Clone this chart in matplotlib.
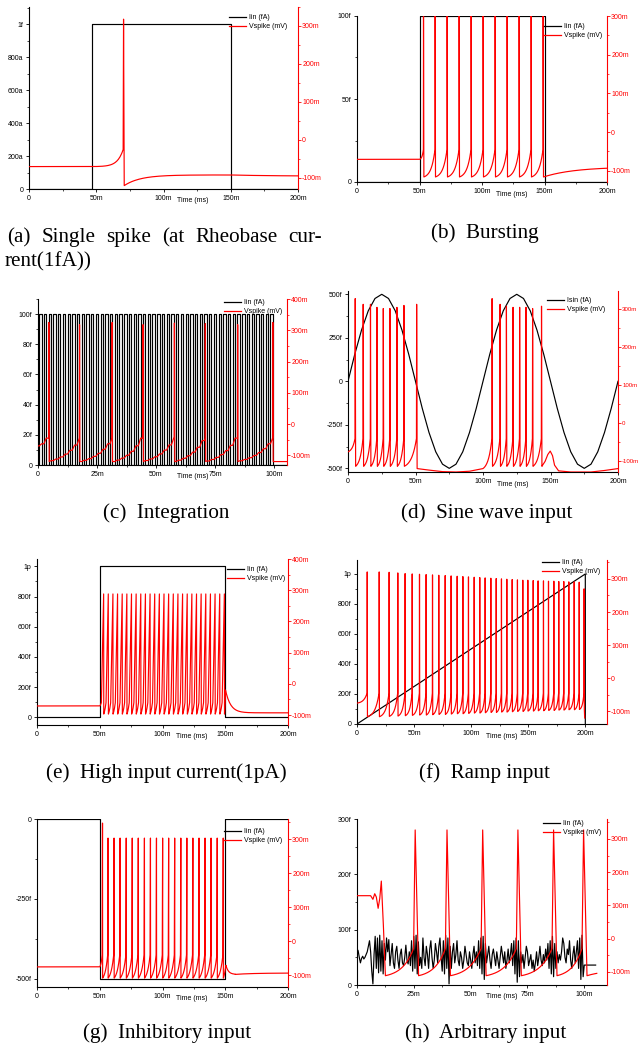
import numpy as np
import matplotlib
matplotlib.use("Agg")
import matplotlib.pyplot as plt
from matplotlib.ticker import AutoMinorLocator, FuncFormatter, FixedLocator
from matplotlib.lines import Line2D

plt.rcParams['font.family'] = 'Liberation Sans'
plt.rcParams['axes.unicode_minus'] = False

# ---------------- data (ms, fA, mV) ----------------
# (a) single spike
a_iin_t = [0, 47, 47, 150, 150, 200]
a_iin = [0, 0, 1, 1, 0, 0]
a_spk = [70.0]
a_pk = [318]

# (b) bursting
b_iin_t = [0, 50, 50, 150, 150, 200]
b_iin = [0, 0, 100, 100, 0, 0]
b_spk = [53.1, 62.4, 72.0, 81.6, 91.2, 100.8, 110.4, 120.0, 129.6, 139.2, 148.8]

# (c) integration: pulse train of 100 fA
c_pulse_on = [0.5, 2.5, 4.5, 6.5, 8.5, 10.5, 12.5, 14.5, 16.5, 18.5, 20.5, 22.5, 24.5,
              26.5, 28.5, 30.5, 32.5, 34.5, 36.5, 38.5, 40.5, 42.5, 44.5, 46.5, 48.5,
              50.5, 52.5, 54.5, 56.5, 58.5, 60.5, 62.5, 64.5, 66.5, 68.5, 70.5, 72.5,
              74.5, 76.5, 78.5, 80.5, 82.5, 84.5, 86.5, 88.5, 90.5, 92.5, 94.5, 96.5, 98.5]
c_pulse_w = 1.0
c_spk = [4.5, 17.5, 31.3, 44.4, 57.7, 70.8, 84.5, 99.4]
c_pk = [325, 318, 325, 318, 323, 321, 318, 325]

# (d) sine input, sampled every 5 ms
d_isin_t = list(range(0, 205, 5))
d_isin = [0, 155, 294, 405, 476, 500, 476, 405, 294, 155, 0, -155, -294, -405, -476, -500,
          -476, -405, -294, -155, 0, 155, 294, 405, 476, 500, 476, 405, 294, 155, 0, -155,
          -294, -405, -476, -500, -476, -405, -294, -155, 0]
d_spk1 = [5.2, 11.1, 16.5, 21.3, 26.0, 30.9, 36.1, 41.3, 50.7]
d_pk1 = [328, 313, 313, 305, 302, 302, 305, 310, 313]
d_gap_t = [51.2, 60, 70, 80, 90, 100]
d_gap_v = [-119, -123, -127, -128, -126, -119]
d_spk2 = [106.6, 112.5, 117.2, 122.1, 127.0, 131.7, 136.6, 143.2]
d_pk2 = [328, 313, 308, 305, 305, 305, 302, 308]
d_tail_t = [143.6, 146, 148, 149.8, 151.5, 153, 156, 165, 180, 190, 200]
d_tail_v = [-113, -100, -82, -73, -85, -110, -125, -128, -128, -124, -119]

# (e) high input current 1 pA
e_iin_t = [0, 50, 50, 150, 150, 200]
e_iin = [0, 0, 1000, 1000, 0, 0]
e_spk = [51.3, 55.0, 58.7, 62.4, 66.1, 69.8, 73.5, 77.2, 80.9, 84.6, 88.3, 92.0, 95.7, 99.4,
         103.1, 106.8, 110.5, 114.2, 117.9, 121.6, 125.3, 129.0, 132.7, 136.4, 140.1,
         143.8, 147.5]
e_pk = [288] * 27

# (f) ramp input
f_iin_t = [0, 200, 200]
f_iin = [0, 1000, 0]
f_spk = [8.8, 19.3, 28.0, 35.6, 42.0, 48.2, 54.6, 60.4, 66.0, 71.5, 77.1, 82.3, 87.6, 92.6,
         97.5, 102.5, 107.4, 112.1, 117.1, 121.8, 126.4, 131.1, 135.8, 140.4, 145.1, 149.5,
         154.2, 158.5, 163.2, 167.6, 172.3, 176.6, 181.0, 185.4, 190.1, 194.5, 198.8]
f_pk = [321, 321, 320, 318, 316, 315, 314, 313, 312, 311, 310, 309, 308, 307, 306, 305,
        304, 303, 302, 301, 300, 299, 298, 297, 296, 296, 295, 294, 294, 293, 293, 292,
        292, 291, 291, 290, 270]
f_tr = [-116, -116, -115, -114, -113, -112, -111, -111, -110, -109, -109, -108, -107,
        -107, -106, -105, -105, -104, -103, -103, -102, -102, -101, -100, -100, -99, -99,
        -98, -98, -97, -97, -96, -96, -95, -95, -94, -94]

# (g) inhibitory input
g_iin_t = [0, 50, 50, 150, 150, 200]
g_iin = [0, 0, -500, -500, 0, 0]
g_spk = [51.9, 56.3, 61.1, 65.9, 70.8, 75.6, 80.4, 85.3, 90.1, 94.9, 99.8, 104.6, 109.4,
         114.3, 119.1, 123.9, 128.8, 133.6, 138.4, 143.3, 148.1]
g_pk = [347] + [303] * 20

# (h) arbitrary input, Iin sampled every 0.5 ms from 0 to 100 ms
h_iin = [65, 62, 50, 40, 48, 52, 47, 50, 55, 60, 70, 80, 60, 25, 2, 55, 88, 30, 85, 22,
         90, 25, 80, 20, 75, 45, 85, 60, 82, 35, 55, 75, 40, 30, 60, 70, 45, 30, 55, 65,
         40, 35, 50, 72, 45, 38, 60, 35, 80, 25, 88, 30, 90, 20, 78, 35, 50, 30, 85, 50,
         35, 70, 55, 30, 65, 80, 50, 30, 45, 75, 60, 40, 70, 85, 50, 25, 80, 20, 90, 30,
         85, 2, 70, 30, 60, 75, 40, 55, 80, 45, 35, 60, 50, 30, 45, 70, 55, 40, 35, 60,
         45, 30, 55, 70, 40, 60, 35, 80, 30, 85, 20, 88, 10, 75, 40, 55, 70, 45, 30, 55,
         65, 50, 35, 60, 45, 30, 50, 70, 55, 40, 60, 30, 45, 65, 40, 55, 75, 35, 80, 20,
         85, 5, 80, 15, 60, 40, 55, 30, 50, 70, 60, 35, 45, 55, 30, 45, 25, 40, 60, 35,
         50, 70, 45, 35, 55, 40, 65, 45, 75, 30, 80, 20, 88, 15, 75, 30, 60, 40, 55, 45,
         60, 85, 75, 50, 40, 65, 55, 80, 45, 30, 55, 70, 40, 60, 80, 30, 85, 10, 90, 15, 60]
h_iin_end = 36
h_pre_t = [0, 6.0, 7.0, 7.8, 8.5, 9.3, 10.0, 10.7, 11.6, 12.5]
h_pre_v = [129, 129, 118, 135, 125, 91, 120, 173, 40, -112]
h_spk = [24.9, 38.9, 54.6, 70.1, 85.8, 99.0]


# ---------------- waveform helpers ----------------
def rise(t0, t1, v0, v1, k, n=40):
    s = np.linspace(0, 1, n)
    f = s if k == 0 else np.expm1(k * s) / np.expm1(k)
    return list(t0 + s * (t1 - t0)), list(v0 + (v1 - v0) * f)


def relax(t0, t1, v0, vinf, tau, n=80):
    t = np.linspace(t0, t1, n)
    return list(t), list(vinf + (v0 - vinf) * np.exp(-(t - t0) / tau))


def burst(t0, v0, spikes, peaks, troughs, thr, k, up=0.15, down=0.1):
    peaks = np.broadcast_to(peaks, len(spikes))
    troughs = np.broadcast_to(troughs, len(spikes))
    T, V = [], []
    tp, vp = t0, v0
    for ts, pk, tr in zip(spikes, peaks, troughs):
        t, v = rise(tp, ts, vp, thr, k)
        T += t
        V += v
        T += [ts + up, ts + up + down]
        V += [pk, tr]
        tp, vp = ts + up + down, tr
    return T, V, tp, vp


def stairs(t0, t1, v0, v1, ons, width, k):
    edges = [t0]
    for s in ons:
        for e in (s, s + width):
            if t0 < e < t1:
                edges.append(e)
    edges.append(t1)
    edges = np.array(edges)
    on = np.array([any(s <= (a + b) / 2 < s + width for s in ons)
                   for a, b in zip(edges[:-1], edges[1:])])
    c = np.concatenate([[0], np.cumsum(np.diff(edges) * on)])
    c = c / c[-1] if c[-1] > 0 else np.linspace(0, 1, len(c))
    g = np.expm1(k * c) / np.expm1(k)
    return list(edges), list(v0 + (v1 - v0) * g)


def pulses(ons, width, amp, t_end):
    T, I = [0], [0]
    for s in ons:
        T += [s, s, s + width, s + width]
        I += [0, amp, amp, 0]
    T.append(t_end)
    I.append(0)
    return T, I


def eng(x, pos=None):
    if abs(x) < 1e-21:
        return '0'
    prefixes = {-18: 'a', -15: 'f', -12: 'p', -9: 'n', -6: 'u', -3: 'm', 0: ''}
    e = int(np.floor(np.log10(abs(x)) / 3 + 1e-9)) * 3
    return '{:g}{}'.format(round(x / 10 ** e, 6), prefixes.get(e, ''))


def ticks(lo, hi, step):
    n0 = int(np.ceil(lo / step - 1e-9))
    n1 = int(np.floor(hi / step + 1e-9))
    return [n * step for n in range(n0, n1 + 1)]


# ---------------- build voltage traces ----------------
# (a)
T, V, tp, vp = burst(47, -70, a_spk, a_pk, -120, -25, 5.5, up=0.3, down=0.5)
t, v = relax(tp, 150, vp, -92, 12)
t2, v2 = relax(150, 200, v[-1], -95, 30)
a_vt = [0] + T + t + t2
a_v = [-70] + V + v + v2

# (b)
T, V, tp, vp = burst(50, -70.5, b_spk, 340, -116, -45, 3, up=0.1, down=0.3)
t, v = relax(tp, 200, vp, -90, 25)
b_vt = [0] + T + t
b_v = [-70.5] + V + v

# (c)
c_vt, c_v = [], []
tp, vp = 0, -70
for ts, pk in zip(c_spk, c_pk):
    t, v = stairs(tp, ts, vp, -45, c_pulse_on, c_pulse_w, 2.0)
    c_vt += t + [ts + 0.1, ts + 0.25]
    c_v += v + [pk, -120]
    tp, vp = ts + 0.25, -120
c_vt += [105.5]
c_v += [-120]
c_it, c_i = pulses(c_pulse_on, c_pulse_w, 100, 105.5)

# (d)
T1, V1, tp, vp = burst(0, -75, d_spk1, d_pk1, -113, -40, 2.5, up=0.15, down=0.3)
T2, V2, tp, vp = burst(100, -119, d_spk2, d_pk2, -113, -40, 2.5, up=0.15, down=0.3)
d_vt = T1 + d_gap_t + T2 + d_tail_t
d_v = V1 + d_gap_v + V2 + d_tail_v

# (e)
T, V, tp, vp = burst(50, -71, e_spk, e_pk, -97, -60, 1.0, up=1.8, down=0.1)
t, v = rise(tp, 150.2, vp, -20, 1)
t2, v2 = relax(150.2, 200, -20, -93, 4)
e_vt = [0] + T + t + t2
e_v = [-71] + V + v + v2

# (f)
T, V, tp, vp = burst(0, -75, f_spk, f_pk, f_tr, -45, 3, up=0.15, down=0.2)
f_vt = T + [tp + 0.3]
f_v = V + [-120]

# (g)
T, V, tp, vp = burst(50, -75, g_spk, g_pk, -108, -40, 2, up=0.3, down=0.1)
t, v = rise(tp, 150.5, vp, -70, 1)
t2, v2 = relax(150.5, 158, -70, -97, 2)
t3, v3 = relax(158, 200, -97, -93, 15)
g_vt = [0] + T + t + t2 + t3
g_v = [-75] + V + v + v2 + v3

# (h)
T, V, tp, vp = burst(12.5, -112, h_spk, 327, -112, -30, 2.5, up=0.7, down=1.5)
t, v = relax(tp, 105.5, vp, -95, 8)
h_vt = h_pre_t + T + t
h_v = h_pre_v + V + v
h_it = list(np.arange(len(h_iin)) * 0.5) + [105]
h_i = h_iin + [h_iin_end]
h_i[-2] = h_iin_end

# ---------------- figure ----------------
W, H = 638, 1047
fig = plt.figure(figsize=(W / 100, H / 100), dpi=100)


def box(l, t, r, b):
    return [l / W, 1 - b / H, (r - l) / W, (b - t) / H]


def panel(rect, xlim, xstep, ylim1, ystep1, ylim2, ystep2, it, i, vt, v,
          leg_xy, xlab_frac, ilabel='Iin (fA)', rsize=5):
    ax1 = fig.add_axes(box(*rect))
    ax2 = ax1.twinx()
    ax1.plot(np.array(it) * 1e-3, np.array(i) * 1e-15, color='black', lw=0.85)
    ax2.plot(np.array(vt) * 1e-3, np.array(v) * 1e-3, color='red', lw=0.85)
    ax1.set_xlim(xlim[0] * 1e-3, xlim[1] * 1e-3)
    ax1.set_ylim(ylim1[0] * 1e-15, ylim1[1] * 1e-15)
    ax2.set_ylim(ylim2[0] * 1e-3, ylim2[1] * 1e-3)
    ax1.xaxis.set_major_locator(FixedLocator([x * 1e-3 for x in ticks(*xlim, xstep)]))
    ax1.yaxis.set_major_locator(FixedLocator([y * 1e-15 for y in ticks(*ylim1, ystep1)]))
    ax2.yaxis.set_major_locator(FixedLocator([y * 1e-3 for y in ticks(*ylim2, ystep2)]))
    for a in (ax1.xaxis, ax1.yaxis, ax2.yaxis):
        a.set_minor_locator(AutoMinorLocator(2))
        a.set_major_formatter(FuncFormatter(eng))
    ax1.spines['top'].set_visible(False)
    ax1.spines['right'].set_visible(False)
    for s in ('top', 'left', 'bottom'):
        ax2.spines[s].set_visible(False)
    ax2.spines['right'].set_color('red')
    for s in ('left', 'bottom'):
        ax1.spines[s].set_linewidth(0.8)
    ax2.spines['right'].set_linewidth(0.8)
    ax1.tick_params(which='major', length=2.5, width=0.6, labelsize=5, pad=1.5)
    ax1.tick_params(which='minor', length=1.5, width=0.5)
    ax2.tick_params(which='major', length=2.0, width=0.6, labelsize=rsize, pad=1.0,
                    colors='red')
    ax2.tick_params(which='minor', length=1.2, width=0.5, colors='red')
    ax1.text(xlab_frac, -12 / (rect[3] - rect[1]), 'Time (ms)', transform=ax1.transAxes,
             ha='center', va='center', fontsize=5)
    handles = [Line2D([], [], color='black', lw=0.9), Line2D([], [], color='red', lw=0.9)]
    ax2.legend(handles, [ilabel, 'Vspike (mV)'], loc='upper right',
               bbox_to_anchor=(leg_xy[0] / W, 1 - leg_xy[1] / H),
               bbox_transform=fig.transFigure, frameon=False, fontsize=5,
               borderpad=0, handlelength=2.4, handletextpad=0.5, labelspacing=0.25)
    return ax1, ax2


panel((29, 7, 298, 189), (0, 200), 50, (0, 1.105), 0.2, (-129, 350), 100,
      a_iin_t, a_iin, a_vt, a_v, (291, 11), 0.61)
panel((357, 16, 607, 182), (0, 200), 50, (0, 100), 50, (-129, 300), 100,
      b_iin_t, b_iin, b_vt, b_v, (606, 20), 0.62)
panel((38, 299, 287, 465), (0, 105.5), 25, (0, 110), 20, (-131, 400), 100,
      c_it, c_i, c_vt, c_v, (286, 296), 0.62)
panel((348, 291, 618, 472), (0, 200), 50, (-521, 519), 250, (-128, 348), 100,
      d_isin_t, d_isin, d_vt, d_v, (609, 294), 0.61, ilabel='Isin (fA)', rsize=4.4)
panel((37, 559, 288, 725), (0, 200), 50, (-51, 1049), 200, (-132, 400), 100,
      e_iin_t, e_iin, e_vt, e_v, (289, 563), 0.615)
panel((357, 560, 607, 724), (0, 219), 50, (0, 1093), 200, (-138, 357), 100,
      f_iin_t, f_iin, f_vt, f_v, (604, 556), 0.58)
panel((37, 819, 288, 987), (0, 200), 50, (-526, 0), 250, (-134, 359), 100,
      g_iin_t, g_iin, g_vt, g_v, (286, 825), 0.615)
panel((357, 819, 607, 985), (0, 110), 25, (0, 300), 100, (-140, 360), 100,
      h_it, h_i, h_vt, h_v, (605, 817), 0.58)

# ---------------- captions ----------------
cap = dict(family='Liberation Serif', fontsize=15.2, va='baseline')

# first caption is a justified line followed by its continuation
words = ['(a)', 'Single', 'spike', '(at', 'Rheobase', 'cur-']
x_left, x_right = 7, 322
objs = [fig.text(0, 1 - 242 / H, w, ha='left', **cap) for w in words]
fig.canvas.draw()
rend = fig.canvas.get_renderer()
widths = [o.get_window_extent(rend).width for o in objs]
gap = (x_right - x_left - sum(widths)) / (len(words) - 1)
x = x_left
for o, w in zip(objs, widths):
    o.set_x(x / W)
    x += w + gap
fig.text(5 / W, 1 - 266 / H, 'rent(1fA))', ha='left', **cap)

fig.text(485 / W, 1 - 238 / H, '(b)  Bursting', ha='center', **cap)
fig.text(166 / W, 1 - 518 / H, '(c)  Integration', ha='center', **cap)
fig.text(487 / W, 1 - 518 / H, '(d)  Sine wave input', ha='center', **cap)
fig.text(166 / W, 1 - 778 / H, '(e)  High input current(1pA)', ha='center', **cap)
fig.text(484 / W, 1 - 778 / H, '(f)  Ramp input', ha='center', **cap)
fig.text(167 / W, 1 - 1038 / H, '(g)  Inhibitory input', ha='center', **cap)
fig.text(486 / W, 1 - 1038 / H, '(h)  Arbitrary input', ha='center', **cap)

fig.savefig('out.png', dpi=100)
